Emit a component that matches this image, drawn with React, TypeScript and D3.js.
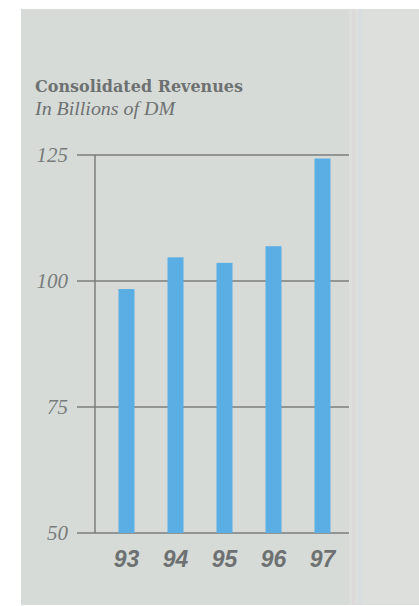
import React from "react";
import * as d3 from "d3";

const years = ["93", "94", "95", "96", "97"];
const revenues = [98.4, 104.7, 103.6, 106.9, 124.3];
const yTicks = [50, 75, 100, 125];
const title = "Consolidated Revenues";
const subtitle = "In Billions of DM";

export default function App() {
  const W = 419;
  const H = 606;
  const y = d3.scaleLinear().domain([50, 125]).range([533, 155]);
  const x = d3.scalePoint<string>().domain(years).range([126.5, 322.5]);
  const barW = 16;
  const textColor = "#6e7171";
  const lineColor = "#7b7e7e";
  return (
    <svg
      width={W}
      height={H}
      style={{ position: "absolute", left: 0, top: 0 }}
    >
      <rect x={0} y={0} width={W} height={H} fill="#ffffff" />
      <rect x={21} y={9} width={328} height={596} fill="#d7dbd8" />
      <rect x={349} y={9} width={70} height={596} fill="#dddfdc" />
      <rect x={352} y={9} width={3} height={596} fill="#ddd6da" opacity={0.7} />
      <rect x={358} y={9} width={4} height={596} fill="#d6dde0" opacity={0.7} />
      <text
        x={35}
        y={92}
        fontFamily="'DejaVu Serif', serif"
        fontWeight="bold"
        fontSize={17.5}
        fill={textColor}
        textLength={208}
        lengthAdjust="spacingAndGlyphs"
      >
        {title}
      </text>
      <text
        x={35}
        y={115}
        fontFamily="'Liberation Serif', serif"
        fontStyle="italic"
        fontSize={18}
        fill={textColor}
        textLength={140}
        lengthAdjust="spacingAndGlyphs"
      >
        {subtitle}
      </text>
      {yTicks.map((t) => (
        <g key={t}>
          <line
            x1={77}
            x2={349}
            y1={y(t)}
            y2={y(t)}
            stroke={lineColor}
            strokeWidth={1.5}
          />
          <text
            x={68}
            y={y(t)}
            dy="0.35em"
            textAnchor="end"
            fontFamily="'Liberation Serif', serif"
            fontStyle="italic"
            fontSize={21}
            fill="#787b7b"
          >
            {t}
          </text>
        </g>
      ))}
      <line
        x1={95}
        x2={95}
        y1={y(125)}
        y2={y(50)}
        stroke={lineColor}
        strokeWidth={1.5}
      />
      {years.map((yr, i) => (
        <rect
          key={yr}
          x={(x(yr) as number) - barW / 2}
          y={y(revenues[i])}
          width={barW}
          height={y(50) - y(revenues[i])}
          fill="#5aaee4"
        />
      ))}
      {years.map((yr) => (
        <text
          key={yr}
          x={x(yr) as number}
          y={567}
          textAnchor="middle"
          fontFamily="'Liberation Sans', sans-serif"
          fontStyle="italic"
          fontWeight="bold"
          fontSize={23}
          fill={textColor}
        >
          {yr}
        </text>
      ))}
    </svg>
  );
}
